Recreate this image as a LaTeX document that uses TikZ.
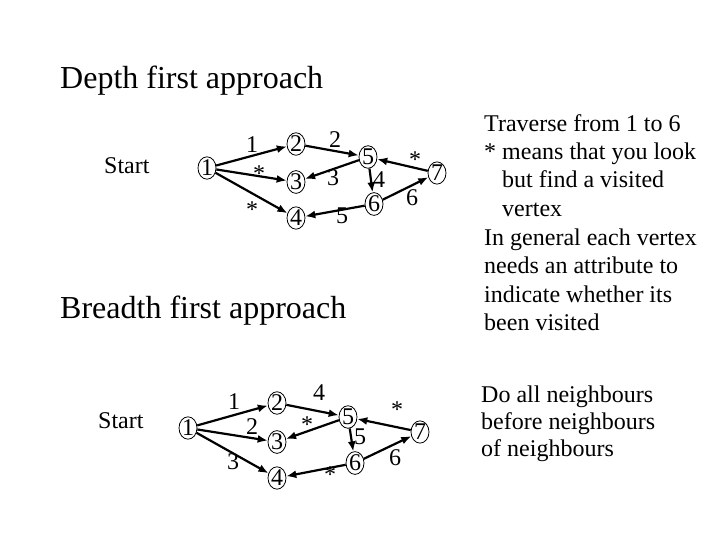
\documentclass[tikz,border=0pt]{standalone}
\usepackage{fontspec}
\setmainfont{Liberation Serif}
\usetikzlibrary{shapes.geometric,arrows.meta}
\begin{document}
\begin{tikzpicture}[x=1pt,y=-1pt,
  vtx/.style={draw,ellipse,inner sep=0pt,minimum width=18pt,minimum height=22pt,line width=0.8pt,font=\fontsize{24}{24}\selectfont},
  lbl/.style={font=\fontsize{24}{24}\selectfont,inner sep=0pt},
  edge/.style={line width=2.2pt,-{Latex[length=10pt,width=8pt]}},
  title/.style={anchor=base west,inner sep=0pt,font=\fontsize{32}{32}\selectfont},
  body/.style={anchor=base west,inner sep=0pt,font=\fontsize{24}{24}\selectfont}]
\useasboundingbox (0,0) rectangle (720,540);
% titles
\node[title] (t1) at (60,89) {Depth first approach};
\node[title] (t2) at (60,318) {Breadth first approach};
\node[body] (s1) at (104,174) {Start};
\node[body] (s2) at (98,428) {Start};
% top graph
\node[vtx] (a1) at (207,168) {1};
\node[vtx] (a2) at (296,144) {2};
\node[vtx] (a3) at (296,182) {3};
\node[vtx] (a4) at (296,218) {4};
\node[vtx] (a5) at (368,157) {5};
\node[vtx] (a6) at (374,204) {6};
\node[vtx] (a7) at (437,173) {7};
\draw[edge] (a1) -- (a2);
\draw[edge] (a1) -- (a3);
\draw[edge] (a1) -- (a4);
\draw[edge] (a2) -- (a5);
\draw[edge] (a5) -- (a3);
\draw[edge] (a5) -- (a6);
\draw[edge] (a6) -- (a4);
\draw[edge] (a6) -- (a7);
\draw[edge] (a7) -- (a5);
\node[lbl] (la1) at (252,145) {1};
\node[lbl] (la2) at (259,174) {*};
\node[lbl] (la3) at (252,210) {*};
\node[lbl] (la4) at (335,140) {2};
\node[lbl] (la5) at (333,178) {3};
\node[lbl] (la6) at (379,180) {4};
\node[lbl] (la7) at (342,216) {5};
\node[lbl] (la8) at (412,198) {6};
\node[lbl] (la9) at (415,160) {*};
% bottom graph
\node[vtx] (b1) at (188,428) {1};
\node[vtx] (b2) at (277,403) {2};
\node[vtx] (b3) at (277,442) {3};
\node[vtx] (b4) at (277,478) {4};
\node[vtx] (b5) at (348,417) {5};
\node[vtx] (b6) at (355,463) {6};
\node[vtx] (b7) at (420,432) {7};
\draw[edge] (b1) -- (b2);
\draw[edge] (b1) -- (b3);
\draw[edge] (b1) -- (b4);
\draw[edge] (b2) -- (b5);
\draw[edge] (b5) -- (b3);
\draw[edge] (b5) -- (b6);
\draw[edge] (b6) -- (b4);
\draw[edge] (b6) -- (b7);
\draw[edge] (b7) -- (b5);
\node[lbl] (lb1) at (234,402) {1};
\node[lbl] (lb2) at (252,427) {2};
\node[lbl] (lb3) at (233,462) {3};
\node[lbl] (lb4) at (319,393) {4};
\node[lbl] (lb5) at (307,425) {*};
\node[lbl] (lb6) at (360,437) {5};
\node[lbl] (lb7) at (330,475) {*};
\node[lbl] (lb8) at (395,458) {6};
\node[lbl] (lb9) at (397,410) {*};
% right texts
\node[body] (r1) at (484,132) {Traverse from 1 to 6};
\node[body] (r2) at (484,160) {* means that you look};
\node[body] (r3) at (502,188) {but find a visited};
\node[body] (r4) at (502,216) {vertex};
\node[body] (r5) at (484,245) {In general each vertex};
\node[body] (r6) at (484,273) {needs an attribute to};
\node[body] (r7) at (484,302) {indicate whether its};
\node[body] (r8) at (484,330) {been visited};
\node[body] (q1) at (481,402) {Do all neighbours};
\node[body] (q2) at (481,429) {before neighbours};
\node[body] (q3) at (481,456) {of neighbours};
\end{tikzpicture}
\end{document}
